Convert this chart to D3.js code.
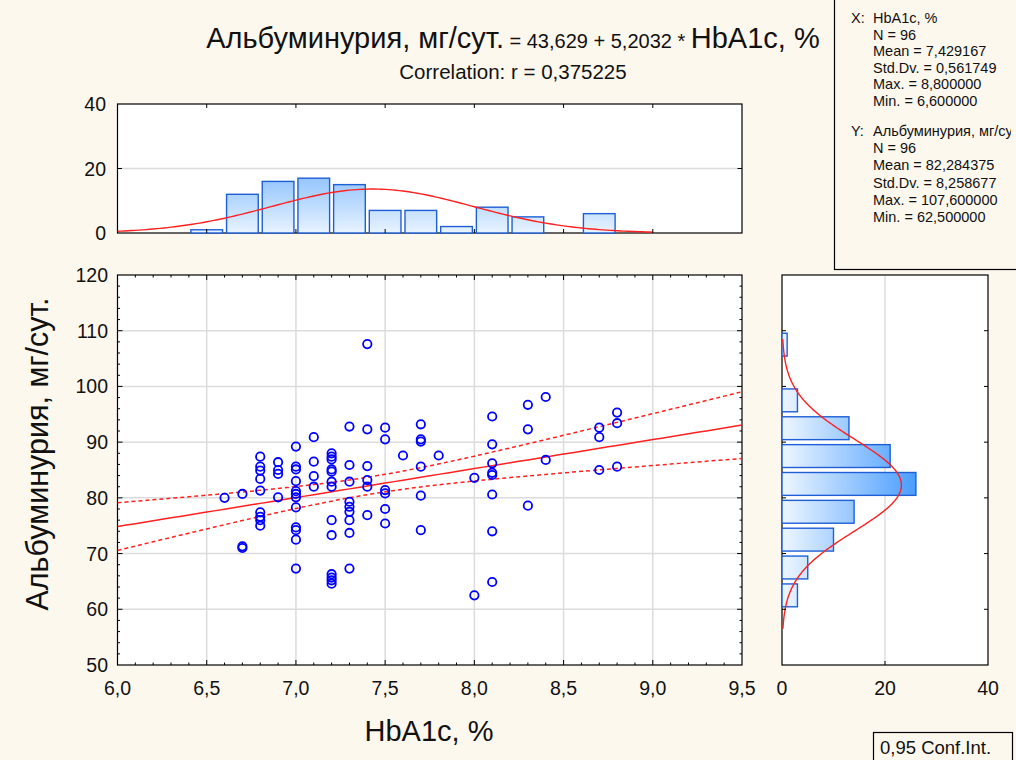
<!DOCTYPE html>
<meta charset="utf-8">
<style>
body { margin: 0; background: #fdf8ee; }
svg { display: block; font-family: "Liberation Sans", Arial, sans-serif; }
.frame { fill: #fff; stroke: #000; stroke-width: 1.2px; }
.grid { stroke: #dcdcdc; stroke-width: 1.5px; }
.tick { stroke: #000; stroke-width: 1px; }
.lbl { font-size: 19.5px; fill: #111; }
.pt { fill: none; stroke: #0000ff; stroke-width: 1.8px; }
.fit { fill: none; stroke: #ff2020; stroke-width: 1.5px; }
.ci { fill: none; stroke: #ff2020; stroke-width: 1.5px; stroke-dasharray: 4,3; }
.bar { stroke: #1f5fd6; stroke-width: 1.4px; }
.norm { fill: none; stroke: #ff2020; stroke-width: 1.4px; }
.stat { font-size: 14.5px; fill: #111; }
</style>
<svg width="1016" height="760"></svg>
<script src="https://d3js.org/d3.v7.min.js"></script>
<script>

// scatter: HbA1c levels and the albuminuria values read at each level
const hba1cLevels = [6.6, 6.7, 6.8, 6.9, 7.0, 7.1, 7.2, 7.3, 7.4, 7.5, 7.6, 7.7, 7.8, 8.0, 8.1, 8.3, 8.4, 8.7, 8.8];
const albuminuria = [
  [80.0],
  [80.7, 71.3, 71.0],
  [87.4, 85.6, 84.9, 83.4, 81.3, 77.4, 76.6, 76.0, 75.0],
  [86.4, 85.0, 84.3, 80.1],
  [89.2, 85.6, 85.1, 83.0, 81.2, 80.7, 80.1, 78.3, 74.7, 74.2, 72.5, 67.3],
  [90.9, 86.5, 83.9, 82.0],
  [88.0, 87.4, 86.9, 85.1, 84.7, 82.9, 82.0, 76.0, 73.3, 66.3, 65.7, 65.2, 64.6],
  [92.8, 85.9, 82.9, 79.3, 78.4, 77.5, 76.0, 73.7, 67.3],
  [107.6, 92.3, 85.7, 83.2, 82.0, 76.9],
  [92.6, 90.5, 81.4, 80.8, 78.0, 75.4],
  [87.6],
  [93.2, 90.5, 90.1, 85.6, 80.4, 74.2],
  [87.6],
  [83.6, 62.5],
  [94.6, 89.6, 86.2, 84.5, 84.1, 80.6, 74.0, 64.9],
  [96.7, 92.3, 78.6],
  [98.1, 86.8],
  [92.6, 90.9, 85.0],
  [95.3, 93.4, 85.6]
];

// marginal histograms
const histXStart = [6.4, 6.6, 6.8, 7.0, 7.2, 7.4, 7.6, 7.8, 8.0, 8.2, 8.4, 8.6];
const histXCount = [1, 12, 16, 17, 15, 7, 7, 2, 8, 5, 0, 6];
const histXWidth = 0.2;
const histYStart = [60, 65, 70, 75, 80, 85, 90, 95, 100, 105];
const histYCount = [3, 5, 10, 14, 26, 21, 13, 3, 0, 1];
const histYWidth = 5;

// statistics printed on the chart
const statN = 96;
const intercept = 43.629, slope = 5.2032, corr = 0.375225;
const xMean = 7.429167, xSd = 0.561749;
const yMean = 82.284375, ySd = 8.258677;

// tick labels
const xTicks = [6.0, 6.5, 7.0, 7.5, 8.0, 8.5, 9.0, 9.5];
const yTicks = [50, 60, 70, 80, 90, 100, 110, 120];
const countTicks = [0, 20, 40];

const statHeads = ["X:", "Y:"];
const statLinesX = ["HbA1c, %", "N = 96", "Mean = 7,429167", "Std.Dv. = 0,561749", "Max. = 8,800000", "Min. = 6,600000"];
const statLinesY = ["Альбуминурия, мг/сут.", "N = 96", "Mean = 82,284375", "Std.Dv. = 8,258677", "Max. = 107,600000", "Min. = 62,500000"];

var svg = d3.select("svg");
var comma = function(v, d) { return d3.format("." + d + "f")(v).replace(".", ","); };

svg.append("rect").attr("width", 1016).attr("height", 760).attr("fill", "#fdf8ee");

var x = d3.scaleLinear().domain([6, 9.5]).range([117.5, 742]);
var y = d3.scaleLinear().domain([50, 120]).range([665, 275]);
var hy = d3.scaleLinear().domain([0, 40]).range([233, 104]);   // top histogram counts
var hx = d3.scaleLinear().domain([0, 40]).range([782, 988]);   // right histogram counts

var defs = svg.append("defs");
var g1 = defs.append("linearGradient").attr("id", "gTop").attr("gradientUnits", "userSpaceOnUse")
  .attr("x1", 0).attr("x2", 0).attr("y1", hy(0)).attr("y2", hy(30));
g1.append("stop").attr("offset", 0).attr("stop-color", "#e8f3ff");
g1.append("stop").attr("offset", 1).attr("stop-color", "#55a3fd");
var g2 = defs.append("linearGradient").attr("id", "gRight").attr("gradientUnits", "userSpaceOnUse")
  .attr("y1", 0).attr("y2", 0).attr("x1", hx(0)).attr("x2", hx(26));
g2.append("stop").attr("offset", 0).attr("stop-color", "#eef6ff");
g2.append("stop").attr("offset", 1).attr("stop-color", "#4a9dff");

// ---------- title ----------
var title = svg.append("text").attr("x", 513).attr("y", 48).attr("text-anchor", "middle").attr("fill", "#111");
title.append("tspan").attr("font-size", 29).text("Альбуминурия, мг/сут.");
title.append("tspan").attr("font-size", 20).text(" = " + comma(intercept, 3) + " + " + comma(slope, 4) + " * ");
title.append("tspan").attr("font-size", 29).text("HbA1c, %");
svg.append("text").attr("x", 513).attr("y", 79).attr("text-anchor", "middle").attr("font-size", 20.5).attr("fill", "#111")
  .text("Correlation: r = " + comma(corr, 6));

// ---------- top histogram ----------
var histTop = svg.append("g");
histTop.append("rect").attr("class", "frame").attr("x", 117.5).attr("y", 104).attr("width", 742 - 117.5).attr("height", 129);
histTop.append("line").attr("class", "grid").attr("x1", 118).attr("x2", 741).attr("y1", hy(20)).attr("y2", hy(20));
histTop.selectAll("rect.bar").data(histXStart).enter().append("rect").attr("class", "bar")
  .attr("x", function(d) { return x(d) + 2; })
  .attr("width", function(d) { return x(d + histXWidth) - x(d) - 4; })
  .attr("y", function(d, i) { return hy(histXCount[i]); })
  .attr("height", function(d, i) { return hy(0) - hy(histXCount[i]); })
  .attr("fill", "url(#gTop)")
  .style("display", function(d, i) { return histXCount[i] ? null : "none"; });
var nx = d3.range(6.0, 9.0001, 0.02).map(function(v) {
  return [x(v), hy(statN * histXWidth * Math.exp(-0.5 * Math.pow((v - xMean) / xSd, 2)) / (xSd * Math.sqrt(2 * Math.PI)))];
});
histTop.append("path").attr("class", "norm").attr("d", d3.line()(nx));
histTop.selectAll("line.tt").data(xTicks.slice(1, -1)).enter().append("line").attr("class", "tick")
  .attr("x1", x).attr("x2", x).attr("y1", 104).attr("y2", 108);
histTop.selectAll("line.tb").data(xTicks.slice(1, -1)).enter().append("line").attr("class", "tick")
  .attr("x1", x).attr("x2", x).attr("y1", 233).attr("y2", 229);
histTop.selectAll("line.tl").data([20]).enter().append("line").attr("class", "tick")
  .attr("x1", 117.5).attr("x2", 122).attr("y1", hy).attr("y2", hy);
histTop.selectAll("line.tr").data([20]).enter().append("line").attr("class", "tick")
  .attr("x1", 742).attr("x2", 737.5).attr("y1", hy).attr("y2", hy);
histTop.selectAll("text").data(countTicks).enter().append("text").attr("class", "lbl")
  .attr("x", 106).attr("y", function(d) { return hy(d) + 7; }).attr("text-anchor", "end").text(String);

// ---------- scatter ----------
var sc = svg.append("g");
sc.append("rect").attr("class", "frame").attr("x", 117.5).attr("y", 275).attr("width", 742 - 117.5).attr("height", 390);
sc.selectAll("line.gx").data(xTicks.slice(1, -1)).enter().append("line").attr("class", "grid")
  .attr("x1", x).attr("x2", x).attr("y1", 276).attr("y2", 664);
sc.selectAll("line.gy").data(yTicks.slice(1, -1)).enter().append("line").attr("class", "grid")
  .attr("y1", y).attr("y2", y).attr("x1", 118).attr("x2", 741);

// minor + major ticks, inward, all four sides
var xMinor = d3.range(61, 95).map(function(v) { return v / 10; });
var yMinor = d3.range(26, 60).map(function(v) { return v * 2; });
function tickLen(isMajor) { return isMajor ? 5 : 2.5; }
xMinor.forEach(function(v) {
  var L = tickLen(Math.abs(v * 2 - Math.round(v * 2)) < 1e-6);
  sc.append("line").attr("class", "tick").attr("x1", x(v)).attr("x2", x(v)).attr("y1", 275).attr("y2", 275 + L);
  sc.append("line").attr("class", "tick").attr("x1", x(v)).attr("x2", x(v)).attr("y1", 665).attr("y2", 665 - L);
});
yMinor.forEach(function(v) {
  var L = tickLen(v % 10 === 0);
  sc.append("line").attr("class", "tick").attr("y1", y(v)).attr("y2", y(v)).attr("x1", 117.5).attr("x2", 117.5 + L);
  sc.append("line").attr("class", "tick").attr("y1", y(v)).attr("y2", y(v)).attr("x1", 742).attr("x2", 742 - L);
});

// regression line with 95% confidence band
var sxx = (statN - 1) * xSd * xSd;
var sRes = ySd * Math.sqrt(1 - corr * corr) * Math.sqrt((statN - 1) / (statN - 2));
var tCrit = 1.9855;
var xs = d3.range(6.0, 9.5001, 0.05);
var fitY = function(v) { return intercept + slope * v; };
var half = function(v) { return tCrit * sRes * Math.sqrt(1 / statN + (v - xMean) * (v - xMean) / sxx); };
var ln = d3.line().x(function(v) { return x(v); });
sc.append("path").attr("class", "ci").attr("d", ln.y(function(v) { return y(fitY(v) + half(v)); })(xs));
sc.append("path").attr("class", "ci").attr("d", ln.y(function(v) { return y(fitY(v) - half(v)); })(xs));
sc.append("path").attr("class", "fit").attr("d", ln.y(function(v) { return y(fitY(v)); })(xs));

var pts = [];
hba1cLevels.forEach(function(h, i) { albuminuria[i].forEach(function(a) { pts.push({ x: h, y: a }); }); });
sc.selectAll("circle").data(pts).enter().append("circle").attr("class", "pt")
  .attr("cx", function(d) { return x(d.x); }).attr("cy", function(d) { return y(d.y); }).attr("r", 4.2);

sc.selectAll("text.xl").data(xTicks).enter().append("text").attr("class", "lbl")
  .attr("x", x).attr("y", 695).attr("text-anchor", "middle").text(function(d) { return comma(d, 1); });
sc.selectAll("text.yl").data(yTicks).enter().append("text").attr("class", "lbl")
  .attr("x", 108).attr("y", function(d) { return y(d) + 7; }).attr("text-anchor", "end").text(String);

svg.append("text").attr("x", 429).attr("y", 741).attr("text-anchor", "middle").attr("font-size", 29).attr("fill", "#111")
  .text("HbA1c, %");
svg.append("text").attr("transform", "translate(48,454) rotate(-90)").attr("text-anchor", "middle")
  .attr("font-size", 30.5).attr("fill", "#111").text("Альбуминурия, мг/сут.");

// ---------- right histogram ----------
var rt = svg.append("g");
rt.append("rect").attr("class", "frame").attr("x", 782).attr("y", 275).attr("width", 988 - 782).attr("height", 390);
rt.append("line").attr("class", "grid").attr("x1", hx(20)).attr("x2", hx(20)).attr("y1", 276).attr("y2", 664);
rt.selectAll("rect.bar").data(histYStart).enter().append("rect").attr("class", "bar")
  .attr("x", hx(0))
  .attr("width", function(d, i) { return hx(histYCount[i]) - hx(0); })
  .attr("y", function(d) { return y(d + histYWidth) + 2.5; })
  .attr("height", function(d) { return y(d) - y(d + histYWidth) - 5; })
  .attr("fill", "url(#gRight)")
  .style("display", function(d, i) { return histYCount[i] ? null : "none"; });
var ny = d3.range(56.5, 108.5001, 0.25).map(function(v) {
  return [hx(statN * histYWidth * Math.exp(-0.5 * Math.pow((v - yMean) / ySd, 2)) / (ySd * Math.sqrt(2 * Math.PI))), y(v)];
});
rt.append("path").attr("class", "norm").attr("d", d3.line()(ny));
rt.selectAll("line.rl").data(yTicks.slice(1, -1)).enter().append("line").attr("class", "tick")
  .attr("x1", 782).attr("x2", 786).attr("y1", y).attr("y2", y);
rt.selectAll("line.rr").data(yTicks.slice(1, -1)).enter().append("line").attr("class", "tick")
  .attr("x1", 988).attr("x2", 984).attr("y1", y).attr("y2", y);
rt.selectAll("line.rb").data([20]).enter().append("line").attr("class", "tick")
  .attr("x1", hx).attr("x2", hx).attr("y1", 665).attr("y2", 661);
rt.selectAll("text").data(countTicks).enter().append("text").attr("class", "lbl")
  .attr("x", hx).attr("y", 695).attr("text-anchor", "middle").text(String);

// ---------- stats box ----------
var sb = svg.append("g");
sb.append("rect").attr("x", 834.5).attr("y", -2).attr("width", 200).attr("height", 271.5)
  .attr("fill", "#fdf8ee").attr("stroke", "#000").attr("stroke-width", 1.2);
var clip = defs.append("clipPath").attr("id", "sbClip");
clip.append("rect").attr("x", 835).attr("y", 0).attr("width", 176).attr("height", 268);
var st = sb.append("g").attr("clip-path", "url(#sbClip)");
[statLinesX, statLinesY].forEach(function(lines, k) {
  var y0 = k ? 136 : 23, dy = k ? 17.2 : 16.6;
  st.append("text").attr("class", "stat").attr("x", 851).attr("y", y0).text(statHeads[k]);
  lines.forEach(function(s, i) {
    st.append("text").attr("class", "stat").attr("x", 873).attr("y", y0 + i * dy).text(s);
  });
});

// ---------- confidence legend ----------
svg.append("rect").attr("x", 873.5).attr("y", 732.5).attr("width", 139).attr("height", 30)
  .attr("fill", "#fdf8ee").attr("stroke", "#000").attr("stroke-width", 1.2);
svg.append("text").attr("x", 880).attr("y", 754).attr("font-size", 18.5).attr("fill", "#111").text("0,95 Conf.Int.");
</script>
